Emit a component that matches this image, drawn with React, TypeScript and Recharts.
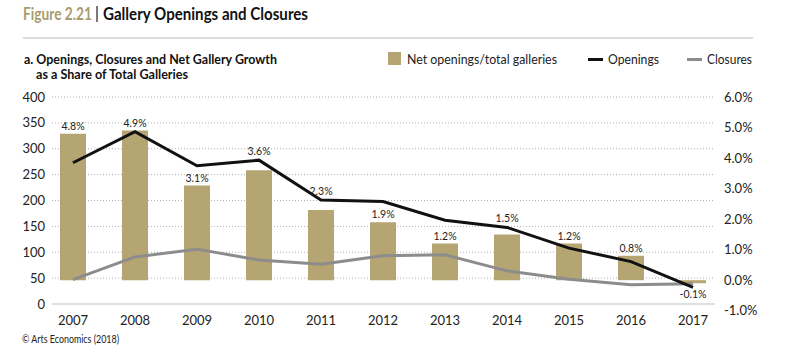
import { ComposedChart, Bar, Line, XAxis, YAxis, CartesianGrid, LabelList } from 'recharts'

const years = ['2007', '2008', '2009', '2010', '2011', '2012', '2013', '2014', '2015', '2016', '2017']
const netShare = [4.8, 4.9, 3.1, 3.6, 2.3, 1.9, 1.2, 1.5, 1.2, 0.8, -0.1]
const openings = [273, 333, 267, 278, 201, 198, 162, 148, 108, 82, 32]
const closures = [47, 91, 106, 85, 77, 93, 95, 64, 48, 37, 39]
const leftTicks = [0, 50, 100, 150, 200, 250, 300, 350, 400]
const rightTicks = [-1, 0, 1, 2, 3, 4, 5, 6]

const GOLD = '#B5A573'
const GREY = '#8C8C8C'
const FONT = 'Lato, "Open Sans", sans-serif'

// plot area (px) used to keep the % labels clear of the openings line
const PLOT_TOP = 97
const PLOT_BOTTOM = 304
const LEFT_MAX = 400

const data = years.map((y, i) => ({
  year: y,
  net: netShare[i],
  openings: openings[i],
  closures: closures[i],
}))

const BarLabel = (props: any) => {
  const { x, y, width, height, value, index } = props
  const cx = x + width / 2
  const top = Math.min(y, y + height)
  const bottom = Math.max(y, y + height)
  let ty = top - 4
  if (value < 0) ty = bottom + 15
  else {
    const lineY = PLOT_BOTTOM - (openings[index] / LEFT_MAX) * (PLOT_BOTTOM - PLOT_TOP)
    const center = top - 7.5
    if (lineY <= top && lineY > center - 8) ty = lineY - 5
  }
  return (
    <text x={cx} y={ty} textAnchor="middle" fontSize={10.5} fill="#222" fontFamily={FONT}>
      {value.toFixed(1)}%
    </text>
  )
}

const LeftTick = (props: any) => (
  <text x={props.x + 3} y={props.y + 4.5} textAnchor="end" fontSize={13} fill="#222" fontFamily={FONT}>
    {props.payload.value}
  </text>
)

const RightTick = (props: any) => (
  <text x={props.x} y={props.y + 4.5} textAnchor="start" fontSize={13} fill="#222" fontFamily={FONT}>
    {props.payload.value.toFixed(1)}%
  </text>
)

const XTick = (props: any) => (
  <text x={props.x} y={props.y + 21} textAnchor="middle" fontSize={13} fill="#222" fontFamily={FONT}>
    {props.payload.value}
  </text>
)

export default function App() {
  return (
    <div style={{ position: 'absolute', left: 0, top: 0, width: 800, height: 354, background: '#fff', fontFamily: FONT }}>
      <ComposedChart width={800} height={354} data={data} margin={{ top: PLOT_TOP, right: 0, bottom: 0, left: 0 }}>
        <CartesianGrid yAxisId="left" vertical={false} horizontalValues={[50, 100, 150, 200, 250, 300, 350, 400]}
          stroke="#b0b0b0" strokeDasharray="1 2" x={52} width={663} />
        <CartesianGrid yAxisId="left" vertical={false} horizontalValues={[0]} stroke="#d4d4d4" strokeWidth={1.5} x={52} width={663} />
        <XAxis dataKey="year" axisLine={false} tickLine={false} tickSize={0} tickMargin={0} height={354 - PLOT_BOTTOM} tick={<XTick />} interval={0} />
        <YAxis yAxisId="left" orientation="left" width={42} domain={[0, LEFT_MAX]} ticks={leftTicks} interval={0}
          axisLine={false} tickLine={false} tickSize={0} tickMargin={0} tick={<LeftTick />} />
        <YAxis yAxisId="right" orientation="right" width={76} domain={[-0.78, 6]} allowDataOverflow ticks={rightTicks} interval={0}
          axisLine={false} tickLine={false} tickSize={0} tickMargin={0} tick={<RightTick />} />
        <Bar yAxisId="right" dataKey="net" fill={GOLD} barSize={26} isAnimationActive={false}>
          <LabelList dataKey="net" content={<BarLabel />} />
        </Bar>
        <Line yAxisId="left" type="linear" dataKey="closures" stroke={GREY} strokeWidth={3} dot={false} isAnimationActive={false} />
        <Line yAxisId="left" type="linear" dataKey="openings" stroke="#111" strokeWidth={3} dot={false} isAnimationActive={false} />
      </ComposedChart>
      <svg width={800} height={354} style={{ position: 'absolute', left: 0, top: 0, pointerEvents: 'none' }} fontFamily={FONT}>
        <text x={23} y={19.5} fontSize={16.5} fontWeight={700} fill="#A89C6C" textLength={69} lengthAdjust="spacingAndGlyphs">Figure 2.21</text>
        <line x1={97} y1={6} x2={97} y2={22} stroke="#222" strokeWidth={1.2} />
        <text x={103} y={19.5} fontSize={16.5} fontWeight={700} fill="#111" textLength={205} lengthAdjust="spacingAndGlyphs">Gallery Openings and Closures</text>
        <line x1={23} y1={38} x2={753} y2={38} stroke="#dcdcdc" strokeWidth={2} />
        <text x={24} y={63.5} fontSize={13.5} fontWeight={700} fill="#111" textLength={253} lengthAdjust="spacingAndGlyphs">a. Openings, Closures and Net Gallery Growth</text>
        <text x={36} y={78.5} fontSize={13.5} fontWeight={700} fill="#111" textLength={152} lengthAdjust="spacingAndGlyphs">as a Share of Total Galleries</text>
        <rect x={388} y={52} width={13} height={13} fill={GOLD} />
        <text x={407} y={64} fontSize={13.5} fill="#222" textLength={150} lengthAdjust="spacingAndGlyphs">Net openings/total galleries</text>
        <line x1={588} y1={59.5} x2={603} y2={59.5} stroke="#111" strokeWidth={3} />
        <text x={608} y={64} fontSize={13.5} fill="#222" textLength={51} lengthAdjust="spacingAndGlyphs">Openings</text>
        <line x1={687} y1={59.5} x2={702} y2={59.5} stroke={GREY} strokeWidth={3} />
        <text x={707} y={64} fontSize={13.5} fill="#222" textLength={45} lengthAdjust="spacingAndGlyphs">Closures</text>
        <text x={22} y={343} fontSize={10.5} fill="#222" textLength={97} lengthAdjust="spacingAndGlyphs">© Arts Economics (2018)</text>
      </svg>
    </div>
  )
}
